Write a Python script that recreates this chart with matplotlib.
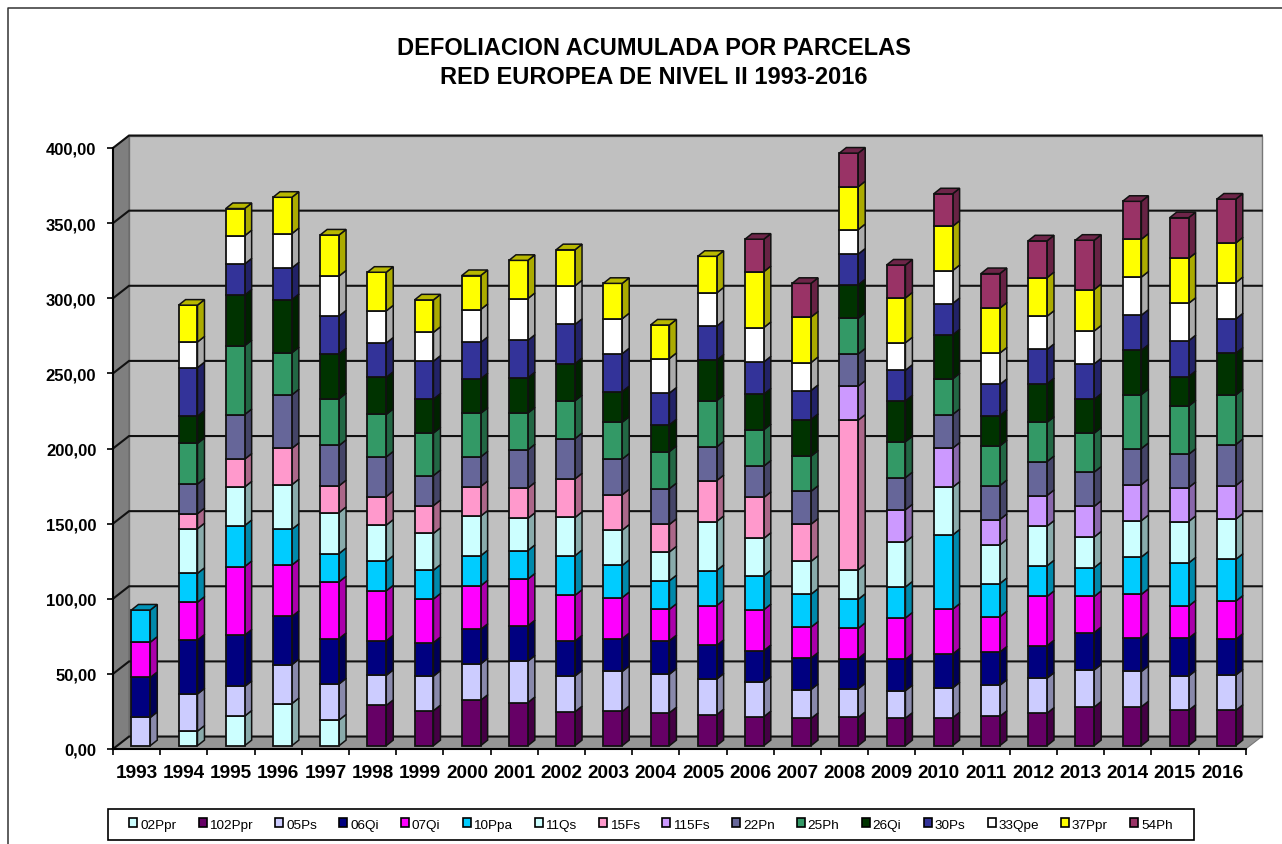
import numpy as np
import matplotlib
matplotlib.use('Agg')
import matplotlib.pyplot as plt
from matplotlib.lines import Line2D
from matplotlib.patches import Patch, Rectangle
from matplotlib.colors import to_rgb

plt.rcParams['font.family'] = ['Liberation Sans', 'DejaVu Sans']

years = list(range(1993, 2017))
y_ticks = [0, 50, 100, 150, 200, 250, 300, 350, 400]
y_labels = ['0,00', '50,00', '100,00', '150,00', '200,00', '250,00', '300,00', '350,00', '400,00']

# values, one list per plot, 1993..2016
s02 = [0, 9.7, 19.7, 28, 17.1, 0, 0, 0, 0, 0, 0, 0, 0, 0, 0, 0, 0, 0, 0, 0, 0, 0, 0, 0]
s102 = [0, 0, 0, 0, 0, 26.8, 23.3, 30.2, 28.7, 22.6, 22.8, 21.9, 20.6, 19.3, 18.1, 18.8, 18.3, 18.6, 19.5, 21.6, 25.7, 25.9, 23.5, 23.5]
s05 = [18.8, 24.7, 19.7, 25.9, 24, 20, 23, 24.2, 27.6, 23.8, 26.6, 25.7, 23.7, 22.9, 19.3, 19.1, 18.3, 19.8, 20.7, 23.3, 24.7, 23.5, 22.8, 23.5]
s06 = [26.6, 35.9, 34.2, 32.1, 30.2, 23, 22.3, 23, 23.5, 23.3, 21.9, 22.3, 22.4, 21.1, 20.9, 20.1, 20.9, 22.6, 22.1, 21.6, 24.9, 22.1, 25.2, 23.8]
s07 = [23.5, 25.2, 45.6, 34.2, 37.8, 33.3, 29, 29, 31.1, 30.4, 27.3, 20.9, 26.5, 27.2, 20.6, 20.1, 27.5, 29.8, 23.5, 32.8, 24, 29.2, 21.4, 25.4]
s10 = [21.4, 19.2, 27.3, 23.8, 18.8, 19.7, 19.2, 20, 19, 26.4, 21.4, 19, 23.4, 22.6, 21.9, 19.3, 20.6, 49.4, 22.1, 20.4, 19.2, 24.9, 28.7, 27.8]
s11 = [0, 29.7, 25.7, 29.7, 27.3, 24, 24.5, 26.4, 21.4, 25.4, 23.5, 19.2, 32.6, 24.9, 21.9, 19.6, 30, 31.8, 25.7, 26.4, 20.4, 24.2, 27.6, 26.8]
s15 = [0, 10, 18.5, 24.2, 17.8, 19, 18.5, 19.7, 20.2, 25.7, 23.5, 18.3, 27.2, 27.2, 24.7, 99.7, 0, 0, 0, 0, 0, 0, 0, 0]
s115 = [0, 0, 0, 0, 0, 0, 0, 0, 0, 0, 0, 0, 0, 0, 0, 22.6, 21.4, 26, 16.9, 20.4, 20.4, 24, 22.6, 22.3]
s22 = [0, 19.7, 29.7, 35.6, 26.8, 26.4, 20, 19.7, 25.4, 26.8, 23.8, 23.8, 22.4, 20.9, 21.9, 21.4, 21.4, 22.4, 22.6, 22.6, 22.8, 24, 22.1, 27.3]
s25 = [0, 27.1, 45.8, 28, 31.1, 28.3, 28.3, 29, 24.5, 25.2, 24.5, 24.7, 30.8, 24.2, 23.4, 23.7, 23.9, 23.7, 26.4, 26.1, 25.9, 35.9, 32.1, 33]
s26 = [0, 18.1, 33.7, 35.4, 29.9, 24.7, 22.6, 23, 23.5, 24.7, 20.4, 17.8, 27, 23.7, 24.4, 22.4, 27.2, 29.3, 20.2, 25.7, 22.6, 29.5, 19.7, 27.8]
s30 = [0, 32.3, 20.7, 21.1, 25.2, 22.8, 25.2, 24.2, 24.9, 26.1, 25.2, 21.1, 22.6, 21.4, 19.3, 20.4, 20.4, 20.9, 20.7, 22.8, 23.5, 23.3, 23.8, 22.8]
s33 = [0, 17.1, 18.8, 22.8, 26.6, 21.4, 19.2, 21.9, 27.8, 25.7, 23.3, 23, 22.1, 22.9, 18.6, 16.3, 18.3, 21.9, 20.9, 22.1, 21.9, 25.4, 24.9, 24.2]
s37 = [0, 24.5, 18.1, 24.2, 27.3, 25.7, 21.6, 22.6, 25.4, 24, 23.5, 22.3, 24.4, 37.2, 30.3, 28.5, 29.8, 29.5, 29.9, 25.7, 27.6, 25.2, 29.9, 26.4]
s54 = [0, 0, 0, 0, 0, 0, 0, 0, 0, 0, 0, 0, 0, 21.6, 22.4, 22.4, 21.9, 21.6, 23, 24.5, 32.8, 25.2, 27.1, 29.2]

names = ['02Ppr', '102Ppr', '05Ps', '06Qi', '07Qi', '10Ppa', '11Qs', '15Fs', '115Fs',
         '22Pn', '25Ph', '26Qi', '30Ps', '33Qpe', '37Ppr', '54Ph']
series = [s02, s102, s05, s06, s07, s10, s11, s15, s115, s22, s25, s26, s30, s33, s37, s54]
colors = ['#CCFFFF', '#660066', '#CCCCFF', '#000080', '#FF00FF', '#00CCFF', '#CCFFFF', '#FF99CC',
          '#CC99FF', '#666699', '#339966', '#003300', '#333399', '#FFFFFF', '#FFFF00', '#993366']

W, H = 1282, 845
fig = plt.figure(figsize=(W / 100, H / 100), dpi=100)
ax = fig.add_axes([113 / W, (H - 750) / H, 1132.7 / W, 601 / H])
ax.set_xlim(0, 24)
ax.set_ylim(0, 400)
ax.patch.set_visible(False)

# fake 3d depth of the box and of the bars, in data units
box_dx, box_dy = 0.34, 8.3
bar_dx, bar_dy = 0.148, 3.7
bar_w = 0.40
bar_x = 0.09
bar_y = 2.2

# outer chart border, only left and top show in the picture
fig.add_artist(Line2D([7.5 / W, 7.5 / W, 1], [0, 1 - 9 / H, 1 - 9 / H], transform=fig.transFigure,
                      color='#333333', lw=1.1))

# walls and floor
ax.fill([box_dx, 24 + box_dx, 24 + box_dx, box_dx], [box_dy, box_dy, 400 + box_dy, 400 + box_dy],
        fc='#C0C0C0', ec='#777777', lw=1, zorder=0, clip_on=False)
ax.fill([0, box_dx, box_dx, 0], [0, box_dy, 400 + box_dy, 400], fc='#7F7F7F', ec='#666666', lw=0.8,
        zorder=0, clip_on=False)
ax.fill([0, 24, 24 + box_dx, box_dx], [0, 0, box_dy, box_dy], fc='#969696', ec='#777777', lw=0.8,
        zorder=0, clip_on=False)

for t in y_ticks:
    ax.plot([0, box_dx, 24 + box_dx], [t, t + box_dy, t + box_dy], color='#111111', lw=1.5, zorder=1,
            clip_on=False, solid_joinstyle='miter')

# bars, bottom series first
x = np.arange(24) + 0.5 + bar_x
bottom = np.zeros(24) + bar_y
for vals, col in zip(series, colors):
    vals = np.array(vals, dtype=float)
    rgb = np.array(to_rgb(col))
    for i in np.nonzero(vals)[0]:
        x1 = x[i] + bar_w / 2
        b0 = bottom[i]
        b1 = b0 + vals[i]
        ax.fill([x1, x1 + bar_dx, x1 + bar_dx, x1], [b0, b0 + bar_dy, b1 + bar_dy, b1],
                fc=rgb * 0.67, ec='#111111', lw=1.1, zorder=3, clip_on=False)
    on = vals > 0
    ax.bar(x[on], vals[on], bar_w, bottom=bottom[on], color=col, edgecolor='#111111', lw=1.3,
           zorder=3, clip_on=False)
    bottom = bottom + vals

# top caps, in the colour of the last segment of each bar
stack = np.array(series)
for i in range(24):
    last = np.nonzero(stack[:, i])[0][-1]
    rgb = np.array(to_rgb(colors[last]))
    x0 = x[i] - bar_w / 2
    x1 = x[i] + bar_w / 2
    t = bottom[i]
    ax.fill([x0, x1, x1 + bar_dx, x0 + bar_dx], [t, t, t + bar_dy, t + bar_dy], fc=rgb * 0.72,
            ec='#111111', lw=1.1, zorder=3, clip_on=False)

ax.set_yticks(y_ticks)
ax.set_yticklabels(y_labels, fontsize=12, fontweight='bold')
ax.set_xticks(np.arange(25))
ax.set_xticklabels([])
ax.set_xticks(np.arange(24) + 0.5, minor=True)
ax.set_xticklabels([str(y) for y in years], minor=True, fontsize=13.7, fontweight='bold')
ax.tick_params(axis='x', which='minor', length=0, pad=11)
ax.tick_params(axis='x', which='major', length=4, width=1.2)
ax.tick_params(axis='y', length=4, width=1.2, pad=8)
ax.spines['top'].set_visible(False)
ax.spines['right'].set_visible(False)
ax.spines['left'].set_linewidth(1.5)
ax.spines['bottom'].set_linewidth(1.5)

fig.text(654 / W, 1 - 63 / H, 'DEFOLIACION ACUMULADA POR PARCELAS\nRED EUROPEA DE NIVEL II 1993-2016',
         ha='center', va='center', fontsize=17, fontweight='bold', linespacing=1.35)

# legend box is drawn by hand, excel pads it more than the legend would
fig.add_artist(Rectangle((107.5 / W, 1 - 841 / H), 1086 / W, 31 / H, transform=fig.transFigure,
                         fc='white', ec='black', lw=1.2, zorder=2))
handles = [Patch(fc=c, ec='black', lw=1.2) for c in colors]
leg = fig.legend(handles, names, ncol=16, loc='center', bbox_to_anchor=(651 / W, 1 - 825.5 / H),
                 fontsize=9.7, frameon=False, handlelength=0.6, handleheight=0.6, handletextpad=0.2,
                 columnspacing=1.66, borderpad=0, borderaxespad=0)
leg.set_zorder(3)

fig.savefig('out.png', dpi=100)
